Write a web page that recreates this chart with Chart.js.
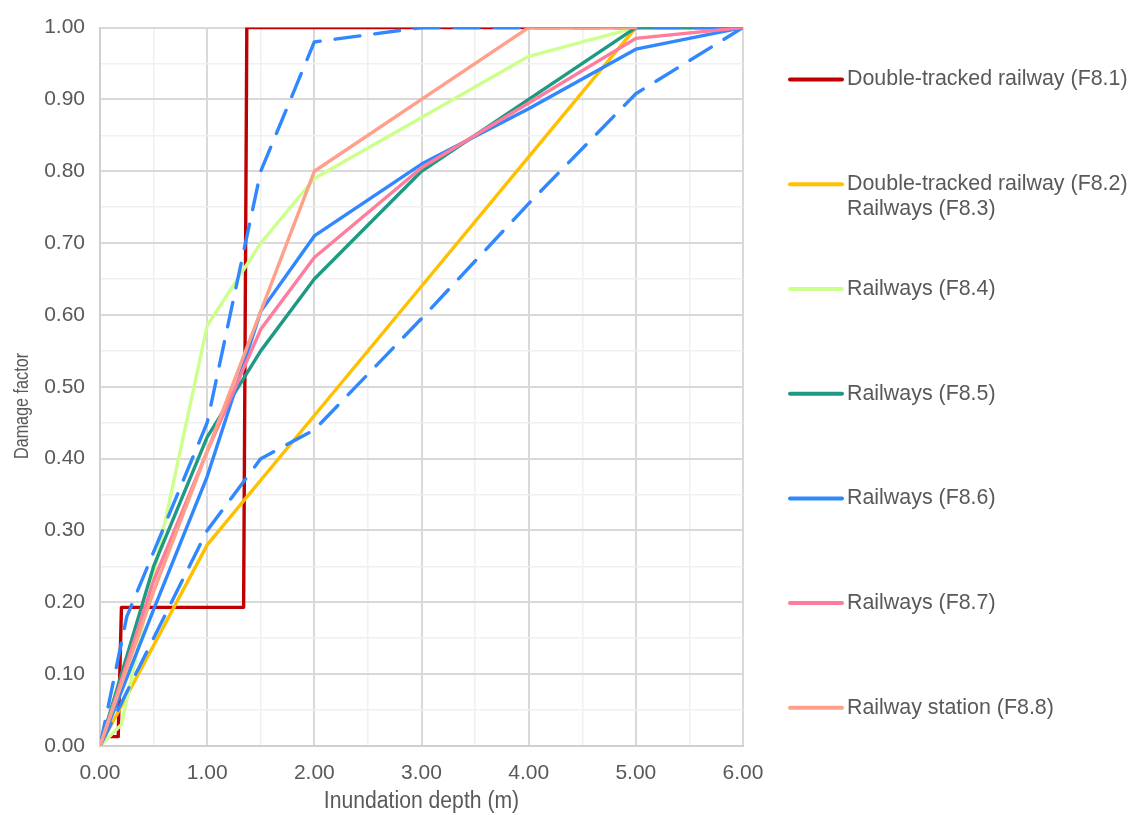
<!DOCTYPE html>
<html>
<head>
<meta charset="utf-8">
<script src="https://cdn.jsdelivr.net/npm/chart.js@4.4.1/dist/chart.umd.min.js"></script>
<style>
  html, body { margin: 0; padding: 0; background: #ffffff; }
  #wrap { width: 1128px; height: 815px; position: relative; }
</style>
</head>
<body>
<div id="wrap"><canvas id="chart" width="1128" height="815"></canvas></div>
<script>
// Inundation depth (m) vs damage factor, railway assets
const depthF81 = [0.10, 0.17, 0.20, 1.34, 1.37, 6.00];
const damageF81 = [0.013, 0.013, 0.193, 0.193, 1.00, 1.00];

const depthF82 = [0, 1, 2, 3, 4, 5];
const damageF82 = [0, 0.28, 0.46, 0.64, 0.82, 1.00];

const depthF84 = [0, 0.2, 1, 1.5, 2, 3, 4, 5];
const damageF84 = [0, 0.03, 0.585, 0.70, 0.79, 0.875, 0.96, 1.00];

const depthF85 = [0, 0.5, 1, 1.5, 2, 3, 4, 5, 6];
const damageF85 = [0, 0.25, 0.43, 0.55, 0.65, 0.80, 0.90, 1.00, 1.00];

const depthF86 = [0, 0.5, 1, 1.5, 2, 3, 4, 5, 6];
const damageF86 = [0, 0.19, 0.375, 0.605, 0.71, 0.81, 0.887, 0.97, 1.00];

const depthF86Upper = [0, 0.25, 1, 1.5, 2, 3, 6];
const damageF86Upper = [0, 0.18, 0.45, 0.80, 0.98, 1.00, 1.00];

const depthF86Lower = [0, 1, 1.5, 2, 3, 4, 5, 6];
const damageF86Lower = [0, 0.30, 0.40, 0.44, 0.595, 0.755, 0.908, 1.00];

const depthF87 = [0, 0.5, 1, 1.5, 2, 3, 4, 5, 6];
const damageF87 = [0, 0.23, 0.41, 0.58, 0.68, 0.805, 0.895, 0.985, 1.00];

const depthF88 = [0, 0.5, 1, 2, 3, 4, 5];
const damageF88 = [0, 0.215, 0.41, 0.80, 0.90, 1.00, 1.00];

const legendLabels = [
  ['Double-tracked railway (F8.1)'],
  ['Double-tracked railway (F8.2)', 'Railways (F8.3)'],
  ['Railways (F8.4)'],
  ['Railways (F8.5)'],
  ['Railways (F8.6)'],
  ['Railways (F8.7)'],
  ['Railway station (F8.8)']
];

const xTitle = 'Inundation depth (m)';
const yTitle = 'Damage factor';
const xTickMax = 6;
const yTickMax = 1;

const TEXT = '#595959';
const GRID_MAJOR = '#d9d9d9';
const GRID_MINOR = '#f0f0f0';
const FONT = '"Liberation Sans", Arial, sans-serif';

function pts(xs, ys) { return xs.map((x, i) => ({ x: x, y: ys[i] })); }

function series(label, xs, ys, color, order, legendIdx, dashed) {
  return {
    label: label,
    data: pts(xs, ys),
    borderColor: color,
    backgroundColor: color,
    borderWidth: 3.4,
    borderDash: dashed ? [25, 15] : [],
    borderCapStyle: 'round',
    borderJoinStyle: 'round',
    pointRadius: 0,
    pointHoverRadius: 0,
    tension: 0,
    fill: false,
    order: order,
    legendIdx: legendIdx
  };
}

const datasets = [
  series('F8.1', depthF81, damageF81, '#c00000', 8, 0, false),
  series('F8.2', depthF82, damageF82, '#ffc000', 7, 1, false),
  series('F8.4', depthF84, damageF84, '#ccff8c', 6, 2, false),
  series('F8.5', depthF85, damageF85, '#1e9a84', 5, 3, false),
  series('F8.6', depthF86, damageF86, '#3087ff', 4, 4, false),
  series('F8.6 upper', depthF86Upper, damageF86Upper, '#3087ff', 2, -1, true),
  series('F8.6 lower', depthF86Lower, damageF86Lower, '#3087ff', 3, -1, true),
  series('F8.7', depthF87, damageF87, '#ff7c9c', 1, 5, false),
  series('F8.8', depthF88, damageF88, '#ffa08a', 0, 6, false)
];

// Legend drawn to the right of the plot, one entry per solid curve
const sideLegend = {
  id: 'sideLegend',
  afterDraw(chart) {
    const ctx = chart.ctx;
    const area = chart.chartArea;
    const x0 = area.right + 47;
    const y0 = area.top + 52;
    const step = 104.7;
    ctx.save();
    ctx.font = '21.4px ' + FONT;
    ctx.textBaseline = 'middle';
    ctx.textAlign = 'left';
    chart.data.datasets.forEach(ds => {
      if (ds.legendIdx < 0) return;
      const y = y0 + ds.legendIdx * step;
      ctx.strokeStyle = ds.borderColor;
      ctx.lineWidth = 4;
      ctx.lineCap = 'round';
      ctx.beginPath();
      ctx.moveTo(x0, y);
      ctx.lineTo(x0 + 52, y);
      ctx.stroke();
      ctx.fillStyle = TEXT;
      legendLabels[ds.legendIdx].forEach((line, k) => {
        ctx.fillText(line, x0 + 57, y + k * 25);
      });
    });
    ctx.restore();
  }
};

// Axis titles in a narrow face (horizontally condensed)
const axisTitles = {
  id: 'axisTitles',
  afterDraw(chart) {
    const ctx = chart.ctx;
    const area = chart.chartArea;
    ctx.save();
    ctx.fillStyle = TEXT;
    ctx.textAlign = 'center';
    ctx.textBaseline = 'middle';

    ctx.save();
    ctx.translate((area.left + area.right) / 2, 802);
    ctx.scale(0.92, 1);
    ctx.font = '23px ' + FONT;
    ctx.fillText(xTitle, 0, 0);
    ctx.restore();

    ctx.save();
    ctx.translate(22, 406);
    ctx.rotate(-Math.PI / 2);
    ctx.scale(0.77, 1);
    ctx.font = '21px ' + FONT;
    ctx.fillText(yTitle, 0, 0);
    ctx.restore();

    ctx.restore();
  }
};

function isMajorY(v) { return Math.round(v * 100) % 10 === 0; }
function isMajorX(v) { return Math.abs(v - Math.round(v)) < 1e-6; }

new Chart(document.getElementById('chart'), {
  type: 'line',
  data: { datasets: datasets },
  plugins: [sideLegend, axisTitles],
  options: {
    responsive: false,
    animation: false,
    events: [],
    layout: { padding: { top: 27, right: 385, left: 0, bottom: 0 } },
    plugins: { legend: { display: false }, tooltip: { enabled: false } },
    scales: {
      x: {
        type: 'linear',
        min: 0,
        max: xTickMax,
        afterFit(scale) { scale.height = 69; },
        ticks: {
          stepSize: 0.5,
          autoSkip: false,
          maxRotation: 0,
          padding: 15,
          color: TEXT,
          font: { family: FONT, size: 21 },
          callback: v => isMajorX(v) ? v.toFixed(2) : ''
        },
        grid: {
          drawTicks: false,
          color: c => isMajorX(c.tick.value) ? GRID_MAJOR : GRID_MINOR,
          lineWidth: c => isMajorX(c.tick.value) ? 2 : 1.5
        },
        border: { color: '#d0d0d0', width: 2 },
        title: { display: false }
      },
      y: {
        type: 'linear',
        min: 0,
        max: yTickMax,
        afterFit(scale) { scale.width = 100; },
        ticks: {
          stepSize: 0.05,
          autoSkip: false,
          padding: 15,
          color: TEXT,
          font: { family: FONT, size: 21 },
          callback: v => isMajorY(v) ? v.toFixed(2) : ''
        },
        grid: {
          drawTicks: false,
          color: c => isMajorY(c.tick.value) ? GRID_MAJOR : GRID_MINOR,
          lineWidth: c => isMajorY(c.tick.value) ? 2 : 1.5
        },
        border: { color: '#d0d0d0', width: 2 },
        title: { display: false }
      }
    }
  }
});
</script>
</body>
</html>
